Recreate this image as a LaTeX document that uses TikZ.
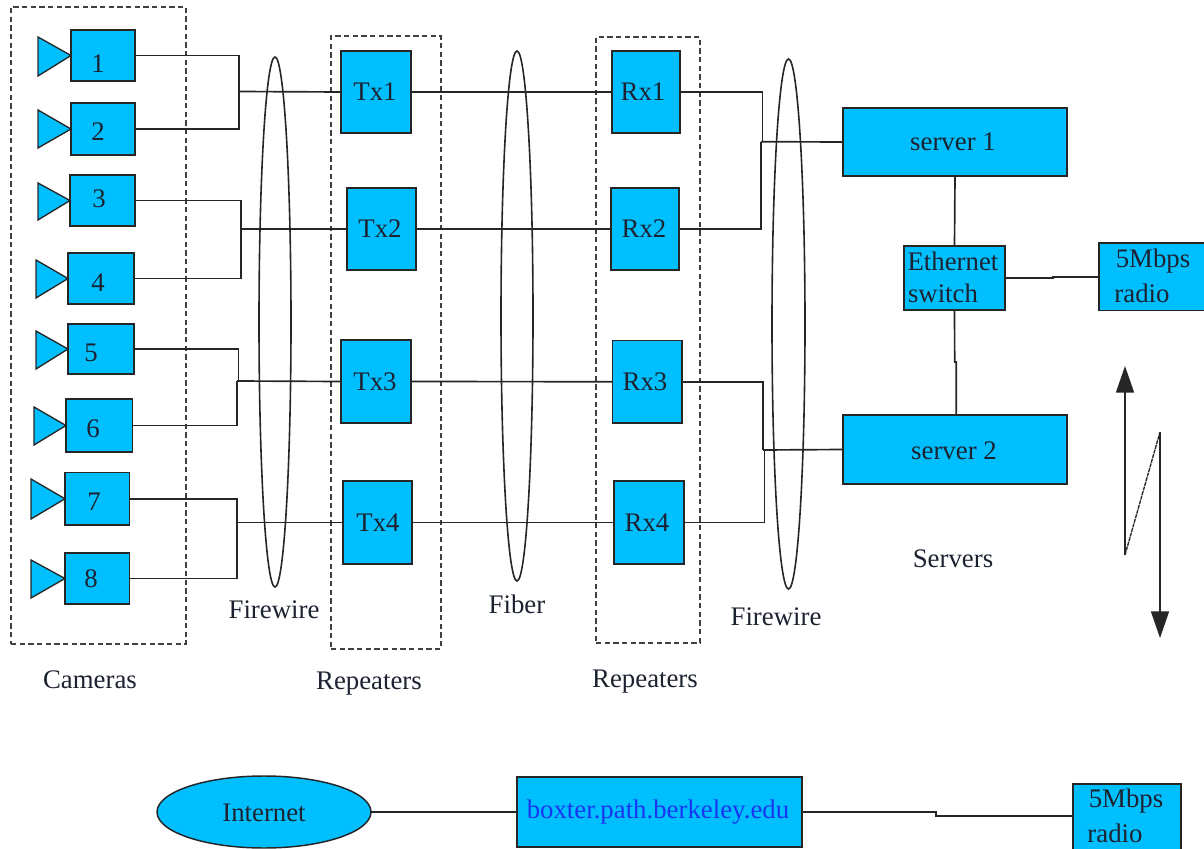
\documentclass[tikz,border=0pt]{standalone}
\usepackage{fontspec}
\setmainfont{Liberation Serif}
\usetikzlibrary{fit,shapes.geometric,arrows.meta}
\definecolor{boxblue}{HTML}{00BFFF}
\definecolor{inktext}{HTML}{1C2230}
\definecolor{linkblue}{HTML}{1A35F0}
\tikzset{
  blockbox/.style={draw=black!85,fill=boxblue,line width=1.1pt,inner sep=0pt,outer sep=0pt},
  txt/.style={font=\fontsize{20.1}{24}\selectfont,text=inktext,inner sep=0pt,yshift=-0.4pt},
  wire/.style={draw=black!85,line width=1.25pt},
  horn/.style={draw=black!85,fill=boxblue,line width=1pt,line join=miter},
  groupbox/.style={draw=black!75,line width=0.9pt,dashed,dash pattern=on 4pt off 2.5pt,inner sep=0pt},
  lens/.style={ellipse,draw=black!85,line width=1.2pt,inner sep=0pt,outer sep=0pt},
  radioarrow/.style={draw=black!85,line width=1.2pt,-{Triangle[width=13.5pt,length=20pt]}}
}
\newcommand{\lab}[3]{\node[txt] (#1) at (#2) {#3};}
\begin{document}
\begin{tikzpicture}[x=0.75pt,y=-0.75pt]
\useasboundingbox (0,0) rectangle (1204,849);
% group boxes
\node[groupbox,fit={(11,7)(186,644)}] (gcam) {};
\node[groupbox,fit={(331,36)(441,649)}] (grep1) {};
\node[groupbox,fit={(596,37)(700,643)}] (grep2) {};
% lenses
\node[lens,minimum width=24pt,minimum height=397.5pt] (lensa) at (275,322) {};
\node[lens,minimum width=24pt,minimum height=397.5pt] (lensb) at (517,316) {};
\node[lens,minimum width=24.75pt,minimum height=397.5pt] (lensc) at (788.5,324) {};
% cameras
\node[blockbox,fit={(71,30)(135,81)}] (c1) {};
\node[blockbox,fit={(71,103)(135,155)}] (c2) {};
\node[blockbox,fit={(70,175)(135,226)}] (c3) {};
\node[blockbox,fit={(68,253)(134,304)}] (c4) {};
\node[blockbox,fit={(68,324)(134,374)}] (c5) {};
\node[blockbox,fit={(66,399)(132.5,452)}] (c6) {};
\node[blockbox,fit={(65,472.5)(129.5,525)}] (c7) {};
\node[blockbox,fit={(65,553)(129.5,604)}] (c8) {};
\path[horn] (38,37) -- (38,76) -- (c1.west) -- cycle;
\path[horn] (38,110) -- (38,148) -- (c2.west) -- cycle;
\path[horn] (38,183) -- (38,220) -- (c3.west) -- cycle;
\path[horn] (36,260) -- (36,298) -- (c4.west) -- cycle;
\path[horn] (36,331) -- (36,369) -- (c5.west) -- cycle;
\path[horn] (34,407) -- (34,445) -- (c6.west) -- cycle;
\path[horn] (31,479) -- (31,519) -- (c7.west) -- cycle;
\path[horn] (31,560) -- (31,598) -- (c8.west) -- cycle;
\lab{n1}{98,63}{1}
\lab{n2}{98,131}{2}
\lab{n3}{99,198}{3}
\lab{n4}{98,282}{4}
\lab{n5}{91,352}{5}
\lab{n6}{93,428}{6}
\lab{n7}{94,501}{7}
\lab{n8}{91,578}{8}
% repeaters
\node[blockbox,fit={(341,51)(411,133)}] (tx1) {};
\node[blockbox,fit={(347,188)(416,270)}] (tx2) {};
\node[blockbox,fit={(341,340)(411,423)}] (tx3) {};
\node[blockbox,fit={(343,481)(412,564)}] (tx4) {};
\node[blockbox,fit={(612,51)(680,133)}] (rx1) {};
\node[blockbox,fit={(611,188)(679,270)}] (rx2) {};
\node[blockbox,fit={(612.5,340.5)(682,423)}] (rx3) {};
\node[blockbox,fit={(614,481)(684,564)}] (rx4) {};
\lab{ltx1}{375,91}{Tx1}
\lab{ltx2}{380,228}{Tx2}
\lab{ltx3}{375,381}{Tx3}
\lab{ltx4}{378,522}{Tx4}
\lab{lrx1}{643,91}{Rx1}
\lab{lrx2}{644,228}{Rx2}
\lab{lrx3}{645,381}{Rx3}
\lab{lrx4}{647,522}{Rx4}
% servers etc.
\node[blockbox,fit={(843,108)(1067,176)}] (s1) {};
\node[blockbox,fit={(843,415)(1067,484)}] (s2) {};
\node[blockbox,fit={(904,246)(1005,310)}] (eth) {};
\node[blockbox,fit={(1099,243)(1208,310.5)}] (rad) {};
\lab{ls1}{953,141}{server 1}
\lab{ls2}{954,450}{server 2}
\lab{leth1}{953,261}{Ethernet}
\lab{leth2}{943,293}{switch}
\lab{lrad1}{1153,261}{5Mbps}
\lab{lrad2}{1142,293}{radio}
% bottom row
\node[ellipse,blockbox,minimum width=160.5pt,minimum height=54pt] (inet) at (264,812) {};
\node[blockbox,fit={(517,777)(802,847)}] (boxter) {};
\node[blockbox,fit={(1073,784)(1181,853)}] (rad2) {};
\lab{linet}{264,812}{Internet}
\lab{lbox}{658,812}{\textcolor{linkblue}{boxter.path.berkeley.edu}}
\lab{lr21}{1126,801}{5Mbps}
\lab{lr22}{1115,833}{radio}
% captions
\lab{cap1}{90,679}{Cameras}
\lab{cap2}{274,609}{Firewire}
\lab{cap3}{369,683}{Repeaters}
\lab{cap4}{517,604}{Fiber}
\lab{cap5}{645,681}{Repeaters}
\lab{cap6}{776,616}{Firewire}
\lab{cap7}{953,558}{Servers}
% junctions
\coordinate (j12) at (239,91.5);
\coordinate (j34) at (241,229);
\coordinate (j56a) at (238.5,381);
\coordinate (j56b) at (237,381);
\coordinate (j78) at (237,522.5);
\coordinate (js1a) at (762.5,141.7);
\coordinate (js1b) at (761,141.7);
\coordinate (js2a) at (763,450);
\coordinate (js2b) at (764.5,450);
\coordinate (jeth) at (1052.7,278);
\coordinate (jsw) at (954.7,362);
\coordinate (jsw2) at (956.3,362);
\coordinate (jbot) at (936,816);
\draw[wire] (c1.east) -| (j12);
\draw[wire] (c2.east) -| (j12);
\draw[wire] (j12) -- (tx1.west);
\draw[wire] (c3.east) -| (j34);
\draw[wire] (c4.east) -| (j34);
\draw[wire] (j34) -- (tx2.west);
\draw[wire] (c5.east) -| (j56a);
\draw[wire] (c6.east) -| (j56b);
\draw[wire] (j56b) -- (tx3.west);
\draw[wire] (c7.east) -| (j78);
\draw[wire] (c8.east) -| (j78);
\draw[wire] (j78) -- (tx4.west);
\draw[wire] (tx1.east) -- (rx1.west);
\draw[wire] (tx2.east) -- (rx2.west);
\draw[wire] (tx3.east) -- (rx3.west);
\draw[wire] (tx4.east) -- (rx4.west);
\draw[wire] (rx1.east) -| (js1a);
\draw[wire] (rx2.east) -| (js1b);
\draw[wire] (js1b) -- (s1.west);
\draw[wire] (rx3.east) -| (js2a);
\draw[wire] (rx4.east) -| (js2b);
\draw[wire] (js2a) -- (s2.west);
\draw[wire] (s1.south) -- (eth.north);
\draw[wire] (eth.south) -- (jsw) -- (jsw2) -- (jsw2 |- s2.north);
\draw[wire] (eth.east) -- (jeth) |- (rad.west);
\draw[wire] (inet.east) -- (boxter.west);
\draw[wire] (boxter.east) -| (jbot) -- (jbot -| rad2.west);
% radio link
\coordinate (za) at (1125,555);
\coordinate (zat) at (1125,366);
\coordinate (zb) at (1160,432);
\coordinate (zbt) at (1160,638);
\draw[radioarrow] (za) -- (zat);
\draw[radioarrow] (zb) -- (zbt);
\draw[draw=black!85,line width=1pt,dash pattern=on 3pt off 0.6pt] (za) -- (zb);
\end{tikzpicture}
\end{document}
